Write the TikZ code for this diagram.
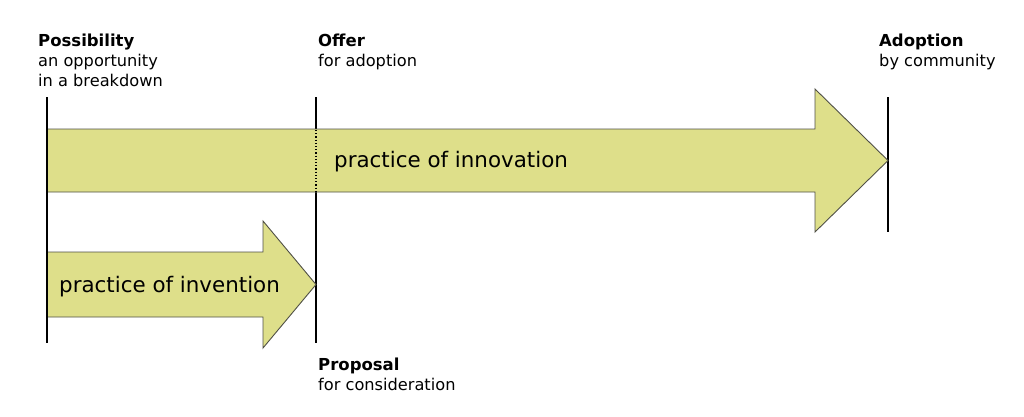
\documentclass[tikz,border=0pt]{standalone}
\usepackage{fontspec}
\setmainfont{DejaVu Sans}
\definecolor{bandfill}{RGB}{222,223,138}
\definecolor{banddraw}{RGB}{80,80,70}

\begin{document}
\begin{tikzpicture}[x=1pt, y=-1pt,
        title/.style={anchor=base west, inner sep=0pt, font=\fontsize{16.5}{20}\selectfont\bfseries},
        sub/.style={anchor=base west, inner sep=0pt, align=left, font=\fontsize{16.2}{20}\selectfont},
        band/.style={fill=bandfill, draw=banddraw, line width=0.9pt, line join=miter},
        bandlabel/.style={anchor=base west, inner sep=0pt, font=\fontsize{21.4}{24}\selectfont},
        milestone/.style={draw=black, line width=1.4pt}]
        \useasboundingbox (0,0) rectangle (1024,416);

        % Milestones
        \coordinate (P-top) at (47,97);
        \coordinate (P-bot) at (47,343);
        \coordinate (O-top) at (316,97);
        \coordinate (O-bot) at (316,343);
        \coordinate (A-top) at (888,97);
        \coordinate (A-bot) at (888,232);

        \draw[milestone] (O-top) -- (O-bot);
        \draw[milestone] (A-top) -- (A-bot);

        % Arrows
        \draw[band] (47,129) -- (815,129) -- (815,89) -- (888,160.5) -- (815,232) -- (815,192) -- (47,192) -- cycle;
        \draw[band] (47,252) -- (263,252) -- (263,221) -- (316,284.5) -- (263,348) -- (263,317) -- (47,317) -- cycle;

        \coordinate (O-in) at (316,130);
        \coordinate (O-out) at (316,191);
        \draw[black, line width=1.2pt, dotted] (O-in) -- (O-out);
        \draw[milestone] (P-top) -- (P-bot);

        % Arrow labels
        \node[bandlabel] (innovation) at (334,167) {practice of innovation};
        \node[bandlabel] (invention) at (59,292) {practice of invention};

        % Milestone labels
        \node[title] (possibility) at (38,46) {Possibility};
        \node[sub] (possibility-sub) at (38,86) {an opportunity\\in a breakdown};
        \node[title] (offer) at (318,46) {Offer};
        \node[sub] (offer-sub) at (318,66) {for adoption};
        \node[title] (adoption) at (879,46) {Adoption};
        \node[sub] (adoption-sub) at (879,66) {by community};
        \node[title] (proposal) at (318,370) {Proposal};
        \node[sub] (proposal-sub) at (318,390) {for consideration};
    \end{tikzpicture}
\end{document}
